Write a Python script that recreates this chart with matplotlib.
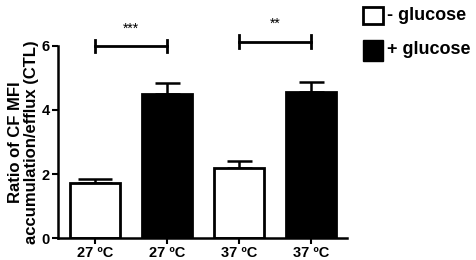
import numpy as np
import matplotlib.pyplot as plt

plt.rcParams['font.family'] = ['Liberation Sans', 'DejaVu Sans']
plt.rcParams['font.weight'] = 'bold'

# 数据
labels = ['27 ºC', '27 ºC', '37 ºC', '37 ºC']
means = [1.72, 4.50, 2.19, 4.55]
sem = [0.12, 0.34, 0.22, 0.32]
glucose = ['-', '+', '-', '+']
sig_pairs = [(0, 1, 6.0, '***'), (2, 3, 6.13, '**')]

def main():
    fig = plt.figure(figsize=(4.76, 2.6), dpi=100)
    ax = fig.add_axes([0.1218, 0.0846, 0.6071, 0.7385])
    x = np.arange(len(means))
    colors = ['white' if g == '-' else 'black' for g in glucose]
    ax.bar(x, means, width=0.69, color=colors, edgecolor='black', linewidth=2.0, zorder=2)

    capsizes = [12, 9, 9, 9]
    for i in range(len(means)):
        ax.errorbar(x[i], means[i], yerr=[[0], [sem[i]]], fmt='none', ecolor='black',
                    elinewidth=1.8, capsize=capsizes[i], capthick=1.8, zorder=1)

    # 显著性标注
    for a, b, y, s in sig_pairs:
        ax.plot([a, b], [y, y], color='black', lw=2, clip_on=False)
        ax.plot([a, a], [y - 0.2, y + 0.2], color='black', lw=2, clip_on=False)
        ax.plot([b, b], [y - 0.2, y + 0.2], color='black', lw=2, clip_on=False)
        ax.text((a + b) / 2, y + 0.55, s, ha='center', va='center', fontsize=10, fontweight='normal')

    ax.set_xlim(-0.51, 3.5)
    ax.set_ylim(0, 6)
    ax.set_yticks([0, 2, 4, 6])
    ax.set_xticks(x)
    ax.set_xticklabels(labels)
    ax.tick_params(width=1.5, length=4, labelsize=10.5, direction='out', pad=2)
    for sp in ['top', 'right']:
        ax.spines[sp].set_visible(False)
    for sp in ['left', 'bottom']:
        ax.spines[sp].set_linewidth(1.8)
    ax.set_ylabel('Ratio of CF MFI\naccumulation/efflux (CTL)', fontsize=12, fontweight='bold',
                  linespacing=1.05, labelpad=2)

    # 图例
    fig.patches.append(plt.Rectangle((363 / 476, 1 - 24 / 260), 20 / 476, 17 / 260,
                                     transform=fig.transFigure, facecolor='white',
                                     edgecolor='black', lw=2))
    fig.patches.append(plt.Rectangle((363 / 476, 1 - 61 / 260), 20 / 476, 21 / 260,
                                     transform=fig.transFigure, facecolor='black',
                                     edgecolor='black', lw=1))
    fig.text(387 / 476, 1 - 15 / 260, '- glucose', fontsize=13, va='center', fontweight='bold')
    fig.text(387 / 476, 1 - 50 / 260, '+ glucose', fontsize=13, va='center', fontweight='bold')

    plt.savefig('out.png', dpi=100)

if __name__ == "__main__":
    main()
